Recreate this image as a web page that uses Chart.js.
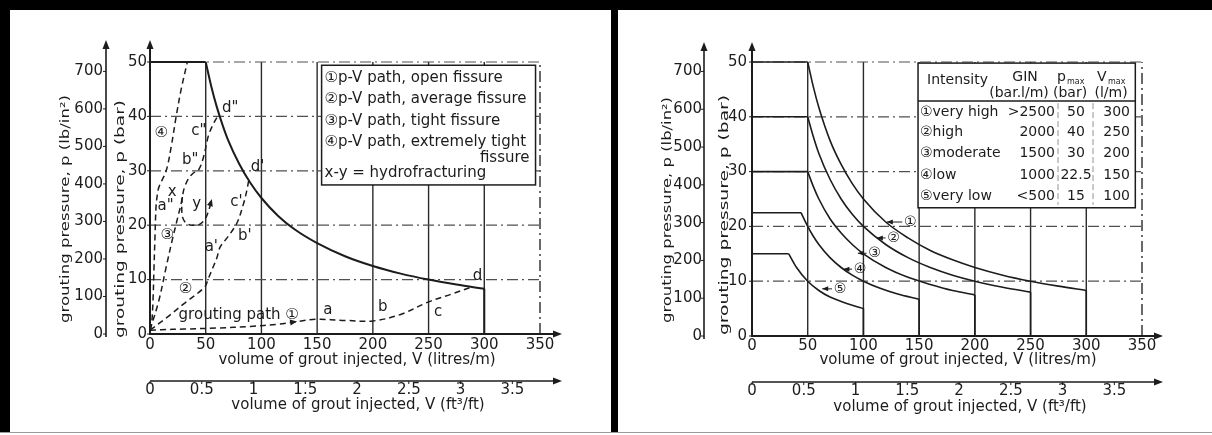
<!DOCTYPE html>
<html>
<head>
<meta charset="utf-8">
<script src="https://cdn.jsdelivr.net/npm/chart.js@4.4.1/dist/chart.umd.min.js"></script>
<style>
  html, body { margin: 0; padding: 0; background: #fff; }
  #page { position: relative; width: 1212px; height: 435px; overflow: hidden; background: #fff; }
  .blk { position: absolute; background: #000; }
  canvas { position: absolute; top: 0; }
</style>
</head>
<body>
<div id="page">
  <div class="blk" style="left:0;top:0;width:1212px;height:10px"></div>
  <div class="blk" style="left:0;top:0;width:10px;height:432px"></div>
  <div class="blk" style="left:611px;top:0;width:7px;height:432px"></div>
  <div style="position:absolute;left:0;top:432px;width:1212px;height:1px;background:#9a9a9a"></div>
  <canvas id="leftChart" width="608" height="435" style="left:0"></canvas>
  <canvas id="rightChart" width="604" height="435" style="left:608px"></canvas>
</div>
<script>
const INK = "#1c1c1c";
const FONT = "'DejaVu Sans', 'Liberation Sans', sans-serif";
Chart.defaults.font.family = FONT;
Chart.defaults.color = INK;
Chart.defaults.animation = false;

// ── Shared axes ──────────────────────────────────────────
const gridV = [50, 100, 150, 200, 250, 300, 350];
const gridP = [10, 20, 30, 40, 50];
const titleV = "volume of grout injected, V (litres/m)";
const titleV2 = "volume of grout injected, V (ft³/ft)";
const titleP = "grouting pressure, p (bar)";
const titleP2 = "grouting pressure, p (lb/in²)";

// ── Left panel: p-V paths (V in l/m, p in bar) ───────────
const envFlatV = [0, 50];
const envFlatP = [50, 50];
const envV = [50, 55, 60, 65, 70, 80, 90, 100, 115, 130, 150, 175, 200, 225, 250, 275, 300];
const envP = [50, 45.5, 41.7, 38.5, 35.7, 31.3, 27.8, 25, 21.7, 19.2, 16.7, 14.3, 12.5, 11.1, 10, 9.1, 8.3];
const envDropV = [300, 300];
const envDropP = [8.3, 0];

const path1V = [0, 10, 30, 60, 90, 115, 132, 150, 175, 200, 225, 250, 270, 288];
const path1P = [0.7, 0.8, 0.9, 1.1, 1.4, 1.8, 2.3, 2.7, 2.5, 2.4, 3.6, 5.9, 7.3, 8.6];
const path2V = [0, 15, 30, 49, 52, 56, 60, 63, 70, 78, 84, 87, 89];
const path2P = [0.7, 3, 5.5, 8.6, 10, 12, 14, 16, 17.9, 20.4, 24, 26.5, 28.7];
const path3V = [0, 8, 14.5, 20, 25, 28, 29, 31, 35, 39, 43.4, 48, 51.5, 53.3, 57.8, 61.5];
const path3P = [0.7, 6.2, 12.3, 17.3, 21.5, 24, 25.2, 27, 28.7, 29.6, 30.1, 32.5, 35.7, 37, 39, 40.3];
const hydroV = [29, 28.5, 29.5, 33, 38, 44, 49, 52, 55];
const hydroP = [25.2, 23, 21.3, 20.3, 20, 20.1, 21, 22.3, 24.3];
const path4V = [0, 1.5, 2.7, 3.6, 4.5, 5.4, 6.5, 8, 14.5, 19, 23.5, 28, 33.5];
const path4P = [0.7, 2, 6.2, 12.3, 18, 23.4, 25.5, 27, 30, 34.4, 40, 45, 50];

// point labels on the left panel
const labTxt = ["④", 'c"', 'd"', 'b"', "d'", "x", "y", 'a"', "c'", "③", "b'", "a'", "②", "grouting path ①", "a", "b", "c", "d"];
const labV = [10, 43.8, 72, 36, 96.6, 20, 42, 14, 77.6, 15.4, 85, 55, 31.9, 79.6, 159.6, 209, 258.5, 294];
const labP = [37, 37.3, 41.5, 32, 30.6, 26, 23.8, 23.5, 24.3, 18.2, 18, 16, 8.3, 3.5, 4.4, 4.9, 4, 10.7];

const legendLines = [
  "①p-V path, open fissure",
  "②p-V path, average fissure",
  "③p-V path, tight fissure",
  "④p-V path, extremely tight",
  "fissure",
  "x-y = hydrofracturing",
];

// ── Right panel: GIN curves ──────────────────────────────
const g1V = [0, 50, 55, 60, 70, 80, 90, 100, 120, 140, 160, 180, 200, 225, 250, 275, 300];
const g1P = [50, 50, 45.5, 41.7, 35.7, 31.3, 27.8, 25, 20.8, 17.9, 15.6, 13.9, 12.5, 11.1, 10, 9.1, 8.3];
const g2V = [0, 50, 55, 60, 70, 80, 90, 100, 120, 140, 160, 180, 200, 225, 250];
const g2P = [40, 40, 36.4, 33.3, 28.6, 25, 22.2, 20, 16.7, 14.3, 12.5, 11.1, 10, 8.9, 8];
const g3V = [0, 50, 55, 60, 70, 80, 90, 100, 120, 140, 160, 180, 200];
const g3P = [30, 30, 27.3, 25, 21.4, 18.8, 16.7, 15, 12.5, 10.7, 9.4, 8.3, 7.5];
const g4V = [0, 44, 50, 55, 60, 70, 80, 90, 100, 115, 130, 150];
const g4P = [22.5, 22.5, 20, 18.2, 16.7, 14.3, 12.5, 11.1, 10, 8.7, 7.7, 6.7];
const g5V = [0, 33, 40, 50, 60, 70, 80, 90, 100];
const g5P = [15, 15, 12.5, 10, 8.3, 7.1, 6.3, 5.6, 5];

const rLabTxt = ["①", "②", "③", "④", "⑤"];
const rLabV = [142, 127, 110, 97, 79];
const rLabP = [20.8, 17.9, 15.1, 12.2, 8.6];
const rLeadV = [121, 112, 95, 82, 63];

const tblName = ["①very high", "②high", "③moderate", "④low", "⑤very low"];
const tblGin = [">2500", "2000", "1500", "1000", "<500"];
const tblPmax = ["50", "40", "30", "22.5", "15"];
const tblVmax = ["300", "250", "200", "150", "100"];

// ── Helpers ──────────────────────────────────────────────
const pts = (V, P) => V.map((v, i) => ({ x: v, y: P[i] }));

function solid(V, P, w = 2) {
  return { data: pts(V, P), showLine: true, pointRadius: 0, borderColor: INK, borderWidth: w, tension: 0, clip: false };
}
function curve(V, P, w = 2) {
  return { ...solid(V, P, w), cubicInterpolationMode: "monotone" };
}
function dashed(V, P) {
  return { ...solid(V, P, 1.5), borderDash: [6, 4], tension: 0.35 };
}

function makeScales(o) {
  const tickFont = { size: 15 };
  const common = { grid: { display: false, drawTicks: false }, border: { display: false } };
  return {
    x: {
      ...common, type: "linear", position: "bottom", min: 0, max: 350,
      ticks: { stepSize: 50, padding: o.xPad, font: tickFont, color: INK, maxRotation: 0, autoSkip: false },
      afterFit: (s) => { s.height = o.xH; },
    },
    x2: {
      ...common, type: "linear", position: "bottom", min: 0, max: 3.767,
      ticks: { stepSize: 0.5, includeBounds: false, padding: o.x2Pad, font: tickFont, color: INK, maxRotation: 0, autoSkip: false,
        callback: (v) => String(+v.toFixed(2)) },
      afterFit: (s) => { s.height = o.x2H; },
    },
    y: {
      ...common, type: "linear", position: "left", min: 0, max: 50, weight: 0,
      ticks: { stepSize: 10, padding: o.yPad, font: tickFont, color: INK },
      afterFit: (s) => { s.width = o.yW; },
    },
    y2: {
      ...common, type: "linear", position: "left", min: 0, max: 725, weight: 1,
      ticks: { stepSize: 100, includeBounds: false, padding: o.y2Pad, font: tickFont, color: INK },
      afterFit: (s) => { s.width = o.y2W; },
    },
  };
}

function drawGrid(chart) {
  const { ctx, scales: { x, y } } = chart;
  ctx.save();
  for (const v of gridV) {
    const X = x.getPixelForValue(v);
    ctx.strokeStyle = "#2a2a2a";
    ctx.lineWidth = 1.4;
    ctx.setLineDash(v === 350 ? [11, 4, 2, 4] : []);
    ctx.beginPath();
    ctx.moveTo(X, y.getPixelForValue(0));
    ctx.lineTo(X, y.getPixelForValue(50));
    ctx.stroke();
  }
  ctx.strokeStyle = "#505050";
  ctx.lineWidth = 1.2;
  ctx.setLineDash([11, 4, 2, 4]);
  for (const p of gridP) {
    const Y = y.getPixelForValue(p);
    ctx.beginPath();
    ctx.moveTo(x.getPixelForValue(0), Y);
    ctx.lineTo(x.getPixelForValue(350), Y);
    ctx.stroke();
  }
  ctx.restore();
}

function arrowHead(ctx, X, Y, ang, len = 9, half = 3.5) {
  ctx.save();
  ctx.translate(X, Y);
  ctx.rotate(ang);
  ctx.beginPath();
  ctx.moveTo(0, 0);
  ctx.lineTo(-len, -half);
  ctx.lineTo(-len, half);
  ctx.closePath();
  ctx.fill();
  ctx.restore();
}

// axis titles: horizontal at natural width, vertical stretched to the scan's length
function hTitle(ctx, text, cx, cy) {
  ctx.save();
  ctx.font = `15px ${FONT}`;
  ctx.fillStyle = INK;
  ctx.textAlign = "center";
  ctx.textBaseline = "middle";
  ctx.fillText(text, cx, cy);
  ctx.restore();
}
function vTitle(ctx, text, cx, yBottom, len) {
  ctx.save();
  ctx.font = `13px ${FONT}`;
  ctx.fillStyle = INK;
  const w = ctx.measureText(text).width;
  ctx.translate(cx, yBottom);
  ctx.rotate(-Math.PI / 2);
  ctx.scale(len / w, 1);
  ctx.textAlign = "left";
  ctx.textBaseline = "middle";
  ctx.fillText(text, 0, 0);
  ctx.restore();
}

function drawAxes(chart, o) {
  const { ctx, scales: { x, y, x2, y2 } } = chart;
  const X0 = x.getPixelForValue(0), Y0 = y.getPixelForValue(0);
  const tipX = o.tipX, tipY = o.tipY;
  ctx.save();
  ctx.strokeStyle = INK;
  ctx.fillStyle = INK;
  ctx.setLineDash([]);
  ctx.lineWidth = 2;
  // bar axis + litres axis
  ctx.beginPath();
  ctx.moveTo(X0, tipY + 4); ctx.lineTo(X0, Y0); ctx.lineTo(tipX - 4, Y0);
  ctx.stroke();
  arrowHead(ctx, X0, tipY, -Math.PI / 2);
  arrowHead(ctx, tipX, Y0, 0);
  // psi axis
  const PX = y2.right;
  ctx.lineWidth = 1.6;
  ctx.beginPath();
  ctx.moveTo(PX, y2.getPixelForValue(0) + 3); ctx.lineTo(PX, tipY + 4);
  ctx.stroke();
  arrowHead(ctx, PX, tipY, -Math.PI / 2);
  // ft3/ft axis
  const PY = x2.top;
  ctx.beginPath();
  ctx.moveTo(X0, PY); ctx.lineTo(tipX - 4, PY);
  ctx.stroke();
  arrowHead(ctx, tipX, PY, 0);
  ctx.lineWidth = 1;
  ctx.beginPath();
  for (const t of x2.ticks) {
    const X = x2.getPixelForValue(t.value);
    ctx.moveTo(X, PY); ctx.lineTo(X, PY + 3);
  }
  for (const t of y2.ticks) {
    const Y = y2.getPixelForValue(t.value);
    ctx.moveTo(PX, Y); ctx.lineTo(PX - 3, Y);
  }
  for (const t of y.ticks) {
    const Y = y.getPixelForValue(t.value);
    ctx.moveTo(X0, Y); ctx.lineTo(X0 - 3, Y);
  }
  ctx.stroke();
  ctx.restore();

  hTitle(ctx, titleV, X0 + o.tX, x.bottom - o.tXb);
  hTitle(ctx, titleV2, X0 + o.tX2, x2.bottom - o.tX2b);
  vTitle(ctx, titleP, y.left + o.tY, o.tYb, o.tYlen);
  vTitle(ctx, titleP2, y2.left + o.tY2, o.tY2b, o.tY2len);
}

// ── Left panel decorations ───────────────────────────────
const leftDecor = {
  id: "leftDecor",
  beforeDatasetsDraw: (chart) => drawGrid(chart),
  afterDatasetsDraw(chart) {
    const { ctx, scales: { x, y } } = chart;
    ctx.save();
    ctx.fillStyle = INK;
    ctx.font = `15px ${FONT}`;
    ctx.textAlign = "center";
    ctx.textBaseline = "middle";
    labTxt.forEach((s, i) => ctx.fillText(s, x.getPixelForValue(labV[i]), y.getPixelForValue(labP[i])));
    // direction arrows on path 1 and the x-y branch
    const a1 = [x.getPixelForValue(115), y.getPixelForValue(1.8), x.getPixelForValue(132), y.getPixelForValue(2.3)];
    const a2 = [x.getPixelForValue(52), y.getPixelForValue(22.3), x.getPixelForValue(55.5), y.getPixelForValue(24.8)];
    for (const a of [a1, a2]) arrowHead(ctx, a[2], a[3], Math.atan2(a[3] - a[1], a[2] - a[0]), 7, 3);

    // legend box
    const L = x.getPixelForValue(154), R = x.getPixelForValue(346);
    const T = y.getPixelForValue(49.4), B = y.getPixelForValue(27.4);
    ctx.fillStyle = "#fff";
    ctx.fillRect(L, T, R - L, B - T);
    ctx.strokeStyle = INK;
    ctx.lineWidth = 1.5;
    ctx.strokeRect(L, T, R - L, B - T);
    ctx.fillStyle = INK;
    const rows = [13, 34, 56, 77, 93, 108];
    legendLines.forEach((s, i) => {
      ctx.textAlign = i === 4 ? "right" : "left";
      ctx.fillText(s, i === 4 ? R - 6 : L + 3, T + rows[i]);
    });
    ctx.restore();
  },
  afterDraw: (chart) => drawAxes(chart, {
    tipX: 562, tipY: 40,
    tX: 207, tXb: 21, tX2: 208, tX2b: 10,
    tY: 15, tYb: 338, tYlen: 238,
    tY2: 11, tY2b: 323, tY2len: 228,
  }),
};

// ── Right panel decorations ──────────────────────────────
const rightDecor = {
  id: "rightDecor",
  beforeDatasetsDraw: (chart) => drawGrid(chart),
  afterDatasetsDraw(chart) {
    const { ctx, scales: { x, y } } = chart;
    ctx.save();
    ctx.fillStyle = INK;
    ctx.strokeStyle = INK;
    ctx.lineWidth = 1;
    ctx.font = `14px ${FONT}`;
    ctx.textAlign = "center";
    ctx.textBaseline = "middle";
    rLabTxt.forEach((s, i) => {
      const X = x.getPixelForValue(rLabV[i]), Y = y.getPixelForValue(rLabP[i]);
      const S = x.getPixelForValue(rLeadV[i]);
      ctx.fillText(s, X, Y);
      ctx.beginPath();
      ctx.moveTo(S, Y); ctx.lineTo(X - 8, Y);
      ctx.stroke();
      arrowHead(ctx, S, Y, Math.PI, 6, 2.5);
    });

    // table
    const L = x.getPixelForValue(149), R = x.getPixelForValue(344);
    const T = y.getPixelForValue(49.8), B = y.getPixelForValue(23.4);
    ctx.fillStyle = "#fff";
    ctx.fillRect(L, T, R - L, B - T);
    ctx.lineWidth = 1.5;
    ctx.strokeRect(L, T, R - L, B - T);
    ctx.beginPath();
    ctx.moveTo(L, T + 38); ctx.lineTo(R, T + 38);
    ctx.stroke();
    ctx.lineWidth = 0.8;
    ctx.strokeStyle = "#777";
    ctx.setLineDash([6, 3]);
    ctx.beginPath();
    ctx.moveTo(L + 140, T + 40); ctx.lineTo(L + 140, B - 3);
    ctx.moveTo(L + 175, T + 40); ctx.lineTo(L + 175, B - 3);
    ctx.stroke();
    ctx.setLineDash([]);

    ctx.fillStyle = INK;
    ctx.font = `14px ${FONT}`;
    ctx.textAlign = "left";
    ctx.fillText("Intensity", L + 9, T + 17);
    ctx.textAlign = "center";
    ctx.fillText("GIN", L + 107, T + 14);
    ctx.fillText("(bar.l/m)", L + 101, T + 30);
    ctx.fillText("(bar)", L + 152, T + 30);
    ctx.fillText("(l/m)", L + 193, T + 30);
    ctx.textAlign = "left";
    ctx.fillText("p", L + 139, T + 14);
    ctx.fillText("V", L + 179, T + 14);
    ctx.font = `8px ${FONT}`;
    ctx.fillText("max", L + 149, T + 19);
    ctx.fillText("max", L + 190, T + 19);

    ctx.font = `14px ${FONT}`;
    const rowY = [49, 69, 90, 112, 133];
    tblName.forEach((s, i) => {
      const Y = T + rowY[i];
      ctx.textAlign = "left";
      ctx.fillText(s, L + 2, Y);
      ctx.textAlign = "right";
      ctx.fillText(tblGin[i], L + 137, Y);
      ctx.fillText(tblVmax[i], L + 212, Y);
      ctx.textAlign = "center";
      ctx.fillText(tblPmax[i], L + 158, Y);
    });
    ctx.restore();
  },
  afterDraw: (chart) => drawAxes(chart, {
    tipX: 555, tipY: 42,
    tX: 206, tXb: 22, tX2: 208, tX2b: 10,
    tY: 21, tYb: 335, tYlen: 240,
    tY2: 10, tY2b: 323, tY2len: 226,
  }),
};

const baseOptions = {
  responsive: false,
  devicePixelRatio: 1,
  animation: false,
  events: [],
  plugins: { legend: { display: false }, tooltip: { enabled: false } },
};

// ── Left chart ───────────────────────────────────────────
new Chart(document.getElementById("leftChart"), {
  type: "scatter",
  data: {
    datasets: [
      solid(envFlatV, envFlatP),
      curve(envV, envP),
      solid(envDropV, envDropP),
      dashed(path1V, path1P),
      dashed(path2V, path2P),
      dashed(path3V, path3P),
      dashed(hydroV, hydroP),
      dashed(path4V, path4P),
    ],
  },
  options: {
    ...baseOptions,
    layout: { padding: { left: 55, right: 68, top: 62, bottom: 20 } },
    scales: makeScales({
      xPad: 2, xH: 47, x2Pad: 0, x2H: 34,
      yPad: 3, yW: 44, y2Pad: 3, y2W: 51,
    }),
  },
  plugins: [leftDecor],
});

// ── Right chart ──────────────────────────────────────────
new Chart(document.getElementById("rightChart"), {
  type: "scatter",
  data: {
    datasets: [g1V, g2V, g3V, g4V, g5V].map((V, i) => {
      const P = [g1P, g2P, g3P, g4P, g5P][i];
      return [solid(V.slice(0, 2), P.slice(0, 2), 1.6), curve(V.slice(1), P.slice(1), 1.6),
        solid([V[V.length - 1], V[V.length - 1]], [P[P.length - 1], 0], 1.6)];
    }).flat(),
  },
  options: {
    ...baseOptions,
    layout: { padding: { left: 50, right: 70, top: 62, bottom: 18 } },
    scales: makeScales({
      xPad: 1, xH: 46, x2Pad: 0, x2H: 35,
      yPad: 5, yW: 48, y2Pad: 2, y2W: 46,
    }),
  },
  plugins: [rightDecor],
});
</script>
</body>
</html>
